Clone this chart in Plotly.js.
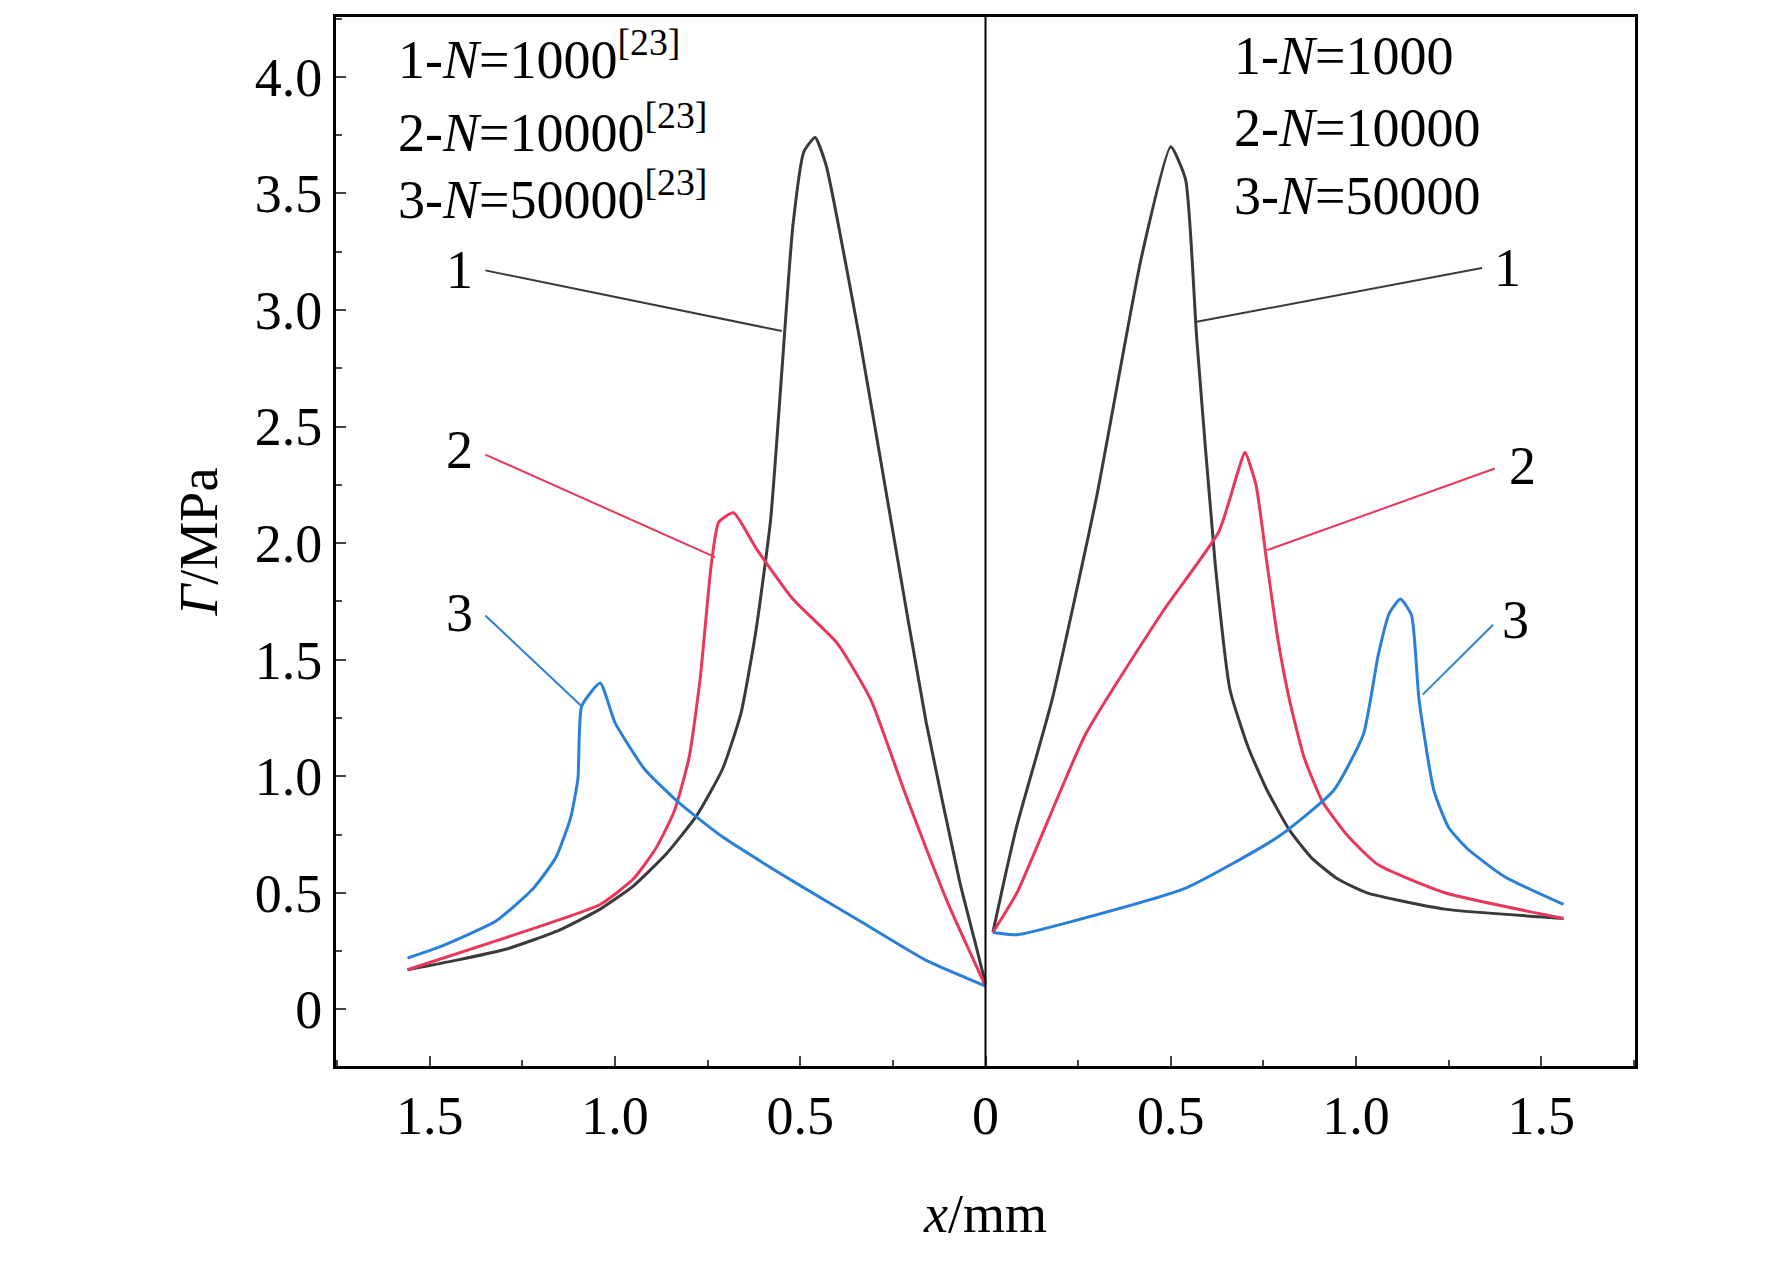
<!DOCTYPE html>
<html><head><meta charset="utf-8">
<script src="https://cdn.plot.ly/plotly-3.0.1.min.js"></script>
<style>body{margin:0;background:#fff}#chart{width:1772px;height:1261px}</style>
</head><body><div id="chart"></div>
<script>
// left half: reference [23], x measured leftwards (plotted negative)
var xL1 = [-1.56,-1.43,-1.29,-1.15,-1.04,-0.95,-0.86,-0.78,-0.71,-0.66,-0.62,-0.58,-0.55,-0.52,-0.49,-0.46,-0.43,-0.40,-0.34,-0.25,-0.16,-0.07,-0.03,0];
var yL1 = [0.17,0.21,0.26,0.34,0.43,0.53,0.67,0.83,1.03,1.27,1.62,2.10,2.73,3.36,3.68,3.74,3.62,3.39,2.88,2.05,1.23,0.55,0.30,0.11];
var xL2 = [-1.56,-1.29,-1.04,-0.95,-0.89,-0.84,-0.80,-0.77,-0.74,-0.72,-0.68,-0.62,-0.52,-0.40,-0.31,-0.22,-0.10,0];
var yL2 = [0.17,0.31,0.45,0.56,0.69,0.85,1.08,1.42,1.91,2.09,2.13,1.98,1.76,1.57,1.33,0.94,0.45,0.10];
var xL3 = [-1.56,-1.47,-1.32,-1.22,-1.16,-1.12,-1.10,-1.09,-1.04,-1.00,-0.92,-0.83,-0.71,-0.52,-0.34,-0.16,0];
var yL3 = [0.22,0.27,0.38,0.52,0.65,0.82,0.99,1.30,1.40,1.23,1.03,0.89,0.74,0.55,0.38,0.21,0.10];
// right half: this work
var xR1 = [0.02,0.05,0.085,0.18,0.30,0.42,0.50,0.54,0.57,0.62,0.66,0.71,0.76,0.82,0.88,0.95,1.03,1.24,1.56];
var yR1 = [0.33,0.55,0.79,1.33,2.20,3.22,3.70,3.56,2.88,1.91,1.37,1.12,0.94,0.77,0.65,0.56,0.50,0.43,0.39];
var xR2 = [0.02,0.085,0.27,0.48,0.63,0.68,0.70,0.73,0.76,0.79,0.82,0.86,0.91,0.98,1.06,1.24,1.56];
var yR2 = [0.33,0.50,1.18,1.71,2.05,2.30,2.39,2.25,1.91,1.58,1.33,1.08,0.89,0.74,0.62,0.50,0.39];
var xR3 = [0.02,0.085,0.24,0.54,0.79,0.94,1.02,1.06,1.09,1.12,1.15,1.17,1.21,1.25,1.30,1.40,1.56];
var yR3 = [0.33,0.32,0.38,0.52,0.74,0.94,1.18,1.52,1.70,1.76,1.69,1.33,0.94,0.78,0.69,0.57,0.45];

var xTicks = [-1.5,-1,-0.5,0,0.5,1,1.5];
var xTickText = ['1.5','1.0','0.5','0','0.5','1.0','1.5'];
var yTicks = [0,0.5,1,1.5,2,2.5,3,3.5,4];
var yTickText = ['0','0.5','1.0','1.5','2.0','2.5','3.0','3.5','4.0'];
var legendLeft = ['1-<i>N</i>=1000<sup>[23]</sup>','2-<i>N</i>=10000<sup>[23]</sup>','3-<i>N</i>=50000<sup>[23]</sup>'];
var legendRight = ['1-<i>N</i>=1000','2-<i>N</i>=10000','3-<i>N</i>=50000'];
var legendY = [4.09,3.78,3.49];

var black = '#3a3a3a', red = '#e8375a', blue = '#2a7fd8';
function tr(x, y, c) { return {x: x, y: y, mode: 'lines', line: {color: c, width: 3, shape: 'spline', smoothing: 0.5}, hoverinfo: 'none'}; }
var data = [tr(xL1,yL1,black), tr(xL2,yL2,red), tr(xL3,yL3,blue),
            tr(xR1,yR1,black), tr(xR2,yR2,red), tr(xR3,yR3,blue)];

var font = {family: 'Liberation Serif, Times New Roman, serif', size: 54, color: '#000'};
var ann = [];
legendLeft.forEach(function (t, i) {
  ann.push({x: -1.59, y: legendY[i], text: t, showarrow: false, xanchor: 'left', font: font});
});
legendRight.forEach(function (t, i) {
  ann.push({x: 0.665, y: legendY[i], text: t, showarrow: false, xanchor: 'left', font: font});
});
// numbered leaders: [label x, label y, line start x, y, line end x, y, colour]
var leaders = [
  [-1.42,3.17,-1.35,3.17,-0.55,2.91,black],
  [-1.42,2.40,-1.35,2.38,-0.73,1.94,red],
  [-1.42,1.70,-1.35,1.69,-1.09,1.30,blue],
  [1.41,3.18,1.34,3.18,0.57,2.95,black],
  [1.45,2.33,1.375,2.32,0.76,1.97,red],
  [1.43,1.67,1.37,1.65,1.18,1.35,blue]
];
var shapes = [{type: 'line', x0: 0, x1: 0, y0: 0, y1: 1, yref: 'paper', line: {color: '#000', width: 2}}];
['1','2','3','1','2','3'].forEach(function (n, i) {
  var l = leaders[i];
  ann.push({x: l[0], y: l[1], text: n, showarrow: false, font: font});
  shapes.push({type: 'line', x0: l[2], y0: l[3], x1: l[4], y1: l[5], line: {color: l[6], width: 2}});
});

var layout = {
  width: 1772, height: 1261,
  margin: {l: 336, r: 137, t: 17, b: 195},
  paper_bgcolor: '#fff', plot_bgcolor: '#fff',
  showlegend: false, font: font,
  xaxis: {range: [-1.753, 1.753], tickvals: xTicks, ticktext: xTickText, ticks: 'inside', ticklen: 10, tickwidth: 2,
    minor: {dtick: 0.25, ticks: 'inside', ticklen: 6}, showgrid: false, zeroline: false,
    showline: true, mirror: true, linecolor: '#000', linewidth: 3,
    title: {text: '<i>x</i>/mm', font: font, standoff: 50}},
  yaxis: {range: [-0.243, 4.257], tickvals: yTicks, ticktext: yTickText, ticks: 'inside', ticklen: 10, tickwidth: 2,
    minor: {dtick: 0.25, ticks: 'inside', ticklen: 6}, showgrid: false, zeroline: false,
    showline: true, mirror: true, linecolor: '#000', linewidth: 3,
    title: {text: '<i>Γ</i>/MPa', font: font, standoff: 20}},
  annotations: ann, shapes: shapes
};
Plotly.newPlot('chart', data, layout, {displayModeBar: false});
</script></body></html>
